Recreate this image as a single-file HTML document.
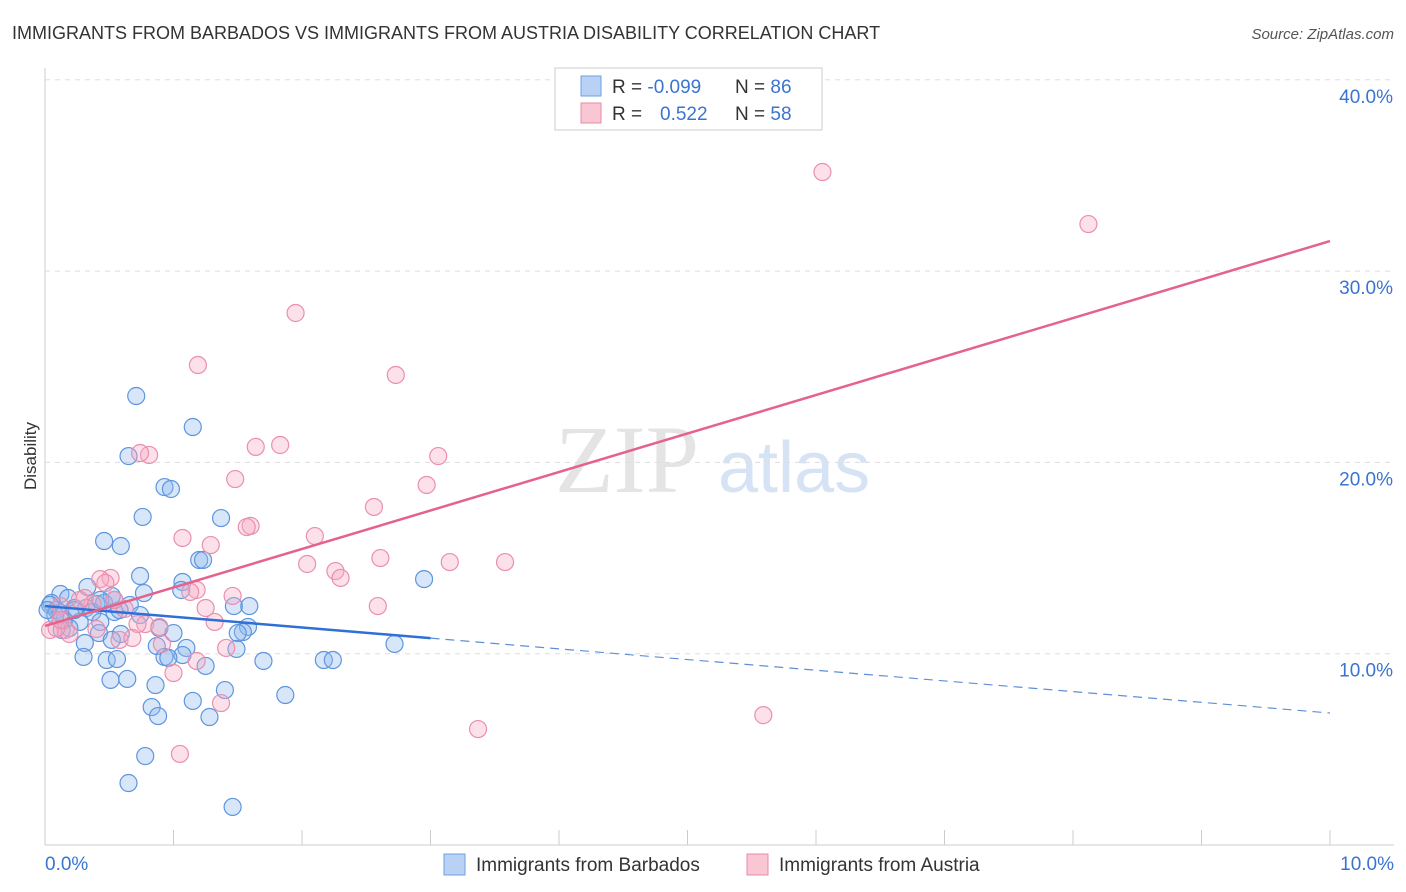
<!DOCTYPE html>
<html><head><meta charset="utf-8"><style>
body{margin:0;background:#fff;font-family:"Liberation Sans",sans-serif}
svg{display:block}
</style></head><body>
<svg id="c" width="1406" height="892" xmlns="http://www.w3.org/2000/svg">
<text x="12" y="39" font-size="18" fill="#333">IMMIGRANTS FROM BARBADOS VS IMMIGRANTS FROM AUSTRIA DISABILITY CORRELATION CHART</text>
<text x="1394" y="39" font-size="15" fill="#555" font-style="italic" text-anchor="end">Source: ZipAtlas.com</text>
<text x="36" y="456" font-size="17" fill="#333" transform="rotate(-90 36 456)" text-anchor="middle">Disability</text>
<g><text x="555" y="492" font-size="96" fill="#e4e4e4" font-family="Liberation Serif,serif">ZIP</text><text x="718" y="492" font-size="72" fill="#d6e3f5">atlas</text></g>
<g id="grid"></g><g id="pts"></g><g id="lines"></g>
<g>
<rect x="555" y="68" width="267" height="62" fill="#fff" stroke="#ccc"/>
<rect x="581" y="76" width="20" height="20" fill="#b8d1f4" stroke="#6fa0e0"/>
<rect x="581" y="103" width="20" height="20" fill="#f9c6d4" stroke="#e88aa8"/>
<text x="612" y="93" font-size="19" fill="#333">R = <tspan fill="#3a74d0">-0.099</tspan></text>
<text x="735" y="93" font-size="19" fill="#333">N = <tspan fill="#3a74d0">86</tspan></text>
<text x="612" y="120" font-size="19" fill="#333">R = <tspan fill="#3a74d0" x="660">0.522</tspan></text>
<text x="735" y="120" font-size="19" fill="#333">N = <tspan fill="#3a74d0">58</tspan></text>
</g>
<g>
<rect x="444" y="854" width="21" height="21" fill="#b8d1f4" stroke="#6fa0e0"/>
<text x="476" y="871" font-size="19" fill="#333">Immigrants from Barbados</text>
<rect x="747" y="854" width="21" height="21" fill="#f9c6d4" stroke="#e88aa8"/>
<text x="779" y="871" font-size="19" fill="#333">Immigrants from Austria</text>
</g>
</svg>
<script>
const blueX=[0.71,1.15,0.65,0.93,0.98,0.76,1.37,0.46,0.59,1.20,1.23,0.74,1.07,0.33,0.12,0.52,0.77,0.05,0.18,0.40,0.46,0.66,1.06,1.47,1.59,0.09,0.23,0.32,0.37,0.54,0.74,0.58,0.15,0.27,0.43,0.19,0.89,1.00,0.59,0.42,0.52,1.58,1.54,1.50,0.31,0.87,1.10,1.07,1.49,0.30,0.48,0.56,0.93,0.96,1.25,1.70,2.17,2.24,0.51,0.64,0.86,1.40,1.15,1.87,0.83,0.88,1.28,0.78,0.65,1.46,2.95,2.72,0.04,0.08,0.12,0.43,0.54,0.02,0.13,0.23];
const blueY=[23.47,21.85,20.33,18.71,18.61,17.15,17.09,15.89,15.63,14.90,14.90,14.06,13.75,13.49,13.12,13.02,13.17,12.65,12.91,12.60,12.65,12.55,13.33,12.49,12.49,12.28,12.39,12.39,12.18,12.18,12.02,12.28,11.76,11.66,11.66,11.34,11.34,11.08,11.03,11.08,10.72,11.40,11.13,11.08,10.56,10.40,10.30,9.93,10.25,9.83,9.67,9.72,9.83,9.78,9.36,9.62,9.67,9.67,8.63,8.68,8.36,8.10,7.53,7.84,7.21,6.74,6.69,4.65,3.24,1.99,13.90,10.51,12.55,12.02,12.13,12.81,12.81,12.28,11.24,12.28];
const pinkX=[6.05,8.12,1.95,1.19,2.73,0.81,0.74,3.06,1.83,1.64,1.48,2.97,2.56,1.60,1.57,2.10,1.07,1.29,2.61,2.04,3.15,3.58,2.26,2.30,0.51,0.43,0.47,1.18,1.46,1.13,2.59,0.31,1.25,0.62,0.37,0.12,0.27,1.32,0.78,0.89,0.72,0.16,0.19,0.04,0.09,0.58,0.68,0.91,1.41,0.40,1.18,1.00,1.37,5.59,3.37,1.05,0.12,0.54];
const pinkY=[35.18,32.46,27.81,25.09,24.57,20.39,20.49,20.33,20.91,20.81,19.13,18.82,17.67,16.68,16.62,16.15,16.05,15.68,15.00,14.69,14.79,14.79,14.32,13.96,13.96,13.90,13.70,13.33,13.02,13.23,12.49,12.91,12.39,12.34,12.60,12.49,12.81,11.66,11.55,11.40,11.55,11.24,11.03,11.24,11.34,10.72,10.82,10.51,10.30,11.29,9.62,8.99,7.42,6.79,6.06,4.76,11.76,12.81];
const blueTrend=[12.49,6.90], blueSolidEnd=3.0;
const pinkTrend=[11.45,31.57];
const yTicks=[10,20,30,40];
const xTicks=[0,1,2,3,4,5,6,7,8,9,10];
const NS="http://www.w3.org/2000/svg";
const sx=v=>45+v*128.5, sy=v=>845-v*19.13;
function mk(t,a,p){const e=document.createElementNS(NS,t);for(const k in a)e.setAttribute(k,a[k]);p.appendChild(e);return e;}
const g=document.getElementById('grid');
mk('line',{x1:45,y1:68,x2:45,y2:845,stroke:'#ccc'},g);
mk('line',{x1:45,y1:845,x2:1394,y2:845,stroke:'#ccc'},g);
yTicks.forEach(v=>{const l=mk('line',{x1:45,y1:sy(v),x2:1394,y2:sy(v),stroke:'#ddd','stroke-dasharray':'5,5'},g);


const t=mk('text',{x:1393,y:sy(v)+23,'font-size':19,fill:'#3a74d0','text-anchor':'end'},g);t.textContent=v.toFixed(1)+'%';

});
xTicks.forEach(v=>{mk('line',{x1:sx(v),y1:830,x2:sx(v),y2:845,stroke:'#ccc'},g);});
[[0,'start',45],[10,'end',1394]].forEach(([v,a,x])=>{const t=mk('text',{x:x,y:870,'font-size':19,fill:'#3a74d0','text-anchor':a},g);t.textContent=v.toFixed(1)+'%';

});
const p=document.getElementById('pts');
blueX.forEach((x,i)=>{const c=mk('circle',{cx:sx(x),cy:sy(blueY[i]),r:8.5,fill:'rgba(140,182,238,0.35)',stroke:'#5f95de','stroke-width':1.2},p);

});
pinkX.forEach((x,i)=>{const c=mk('circle',{cx:sx(x),cy:sy(pinkY[i]),r:8.5,fill:'rgba(245,170,195,0.35)',stroke:'#ea8fae','stroke-width':1.2},p);

});
const L=document.getElementById('lines');
const bAt=x=>blueTrend[0]+(blueTrend[1]-blueTrend[0])*x/10;
let e=mk('line',{x1:sx(0),y1:sy(bAt(0)),x2:sx(blueSolidEnd),y2:sy(bAt(blueSolidEnd)),stroke:'#2f6fd6','stroke-width':2.5},L);


e=mk('line',{x1:sx(blueSolidEnd),y1:sy(bAt(blueSolidEnd)),x2:sx(10),y2:sy(bAt(10)),stroke:'#5f8fd8','stroke-width':1.2,'stroke-dasharray':'9,6'},L);


e=mk('line',{x1:sx(0),y1:sy(pinkTrend[0]),x2:sx(10),y2:sy(pinkTrend[1]),stroke:'#e4628c','stroke-width':2.5},L);


</script>
</body></html>
